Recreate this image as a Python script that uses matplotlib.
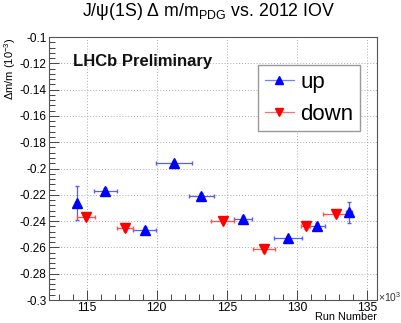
import matplotlib
matplotlib.use("Agg")
import matplotlib.pyplot as plt
from matplotlib.lines import Line2D
from matplotlib.ticker import MultipleLocator, FormatStrFormatter

plt.rcParams['font.family'] = ['Liberation Sans', 'DejaVu Sans']
plt.rcParams['mathtext.fontset'] = 'custom'
plt.rcParams['mathtext.rm'] = 'Liberation Sans'
plt.rcParams['axes.unicode_minus'] = False

# run number in units of 10^3
up_run = [114.29, 116.33, 119.14, 121.24, 123.17, 126.14, 129.36, 131.43, 133.74]
up_run_err = [0.1, 0.83, 0.83, 1.28, 0.9, 0.63, 0.98, 0.56, 0.2]
up_dm = [-0.2265, -0.2169, -0.2468, -0.1960, -0.2209, -0.2384, -0.2531, -0.2435, -0.2332]
up_dm_err = [0.013, 0.002, 0.002, 0.002, 0.002, 0.002, 0.002, 0.002, 0.008]

down_run = [114.93, 117.74, 124.71, 127.67, 130.62, 132.79]
down_run_err = [0.63, 0.55, 0.83, 0.77, 0.32, 0.89]
down_dm = [-0.2366, -0.2455, -0.2397, -0.2615, -0.2437, -0.2346]
down_dm_err = [0.002, 0.002, 0.002, 0.002, 0.002, 0.002]

fig = plt.figure(figsize=(4.02, 3.23), dpi=100)
ax = fig.add_axes([0.1227, 0.0712, 0.8143, 0.8142])

ax.errorbar(up_run, up_dm, xerr=up_run_err, yerr=up_dm_err, fmt='^',
            color='#0000ff', ecolor='#5060ff', elinewidth=0.9, capsize=1.5,
            markersize=7, zorder=3)
ax.errorbar(down_run, down_dm, xerr=down_run_err, yerr=down_dm_err, fmt='v',
            color='#ff0000', ecolor='#ff5050', elinewidth=0.9, capsize=1.5,
            markersize=7, zorder=3)

ax.set_xlim(112.33, 135.7)
ax.set_ylim(-0.3, -0.1)
ax.xaxis.set_major_locator(MultipleLocator(5))
ax.xaxis.set_minor_locator(MultipleLocator(1))
ax.yaxis.set_major_locator(MultipleLocator(0.02))
ax.yaxis.set_minor_locator(MultipleLocator(0.004))
ax.yaxis.set_major_formatter(FormatStrFormatter('%g'))
ax.xaxis.set_major_formatter(FormatStrFormatter('%g'))
ax.tick_params(which='both', direction='in', top=False, right=False)
ax.tick_params(which='major', length=7, width=0.7, color='#444444')
ax.tick_params(which='minor', length=4, width=0.7, color='#444444')
ax.tick_params(axis='x', labelsize=8.8, pad=1.2)
ax.tick_params(axis='y', labelsize=8.5, pad=2)
for s in ax.spines.values():
    s.set_color('#555555')
    s.set_linewidth(0.8)
ax.grid(True, which='major', color='#aaaaaa', linestyle=(0, (1, 2)), linewidth=0.7)

ax.set_ylabel('Δm/m (10$^{-3}$)', fontsize=8, loc='top', labelpad=1)
ax.set_xlabel('Run Number', fontsize=7.8, ha='right')
ax.xaxis.set_label_coords(1.0, -0.047)
ax.text(1.003, 0.012, '×10$^{3}$', transform=ax.transAxes, fontsize=7.5,
        ha='left', va='center', color='#333333')

fig.text(0.52, 0.963, r'J/ψ(1S) Δ m/m$_{\rm PDG}$ vs. 2012 IOV', fontsize=12.8,
         ha='center', va='center')
ax.text(0.072, 0.905, 'LHCb Preliminary', transform=ax.transAxes, fontsize=12,
        fontweight='bold', ha='left', va='center', color='#111111')

h_up = Line2D([], [], color='#7080ff', lw=0.9, marker='^', markersize=6,
              markerfacecolor='#0000ff', markeredgecolor='#0000ff')
h_down = Line2D([], [], color='#ff7070', lw=0.9, marker='v', markersize=6,
                markerfacecolor='#ff0000', markeredgecolor='#ff0000')
leg = ax.legend(handles=[h_up, h_down], labels=['up', 'down'], loc='upper left',
                bbox_to_anchor=(0.6375, 0.8935), borderaxespad=0, fontsize=16,
                fancybox=False, framealpha=1, edgecolor='#999999',
                handlelength=1.3, handletextpad=0.3, labelspacing=0.5,
                borderpad=0.3)
leg.get_frame().set_linewidth(1.0)

fig.savefig('out.png', dpi=100)
